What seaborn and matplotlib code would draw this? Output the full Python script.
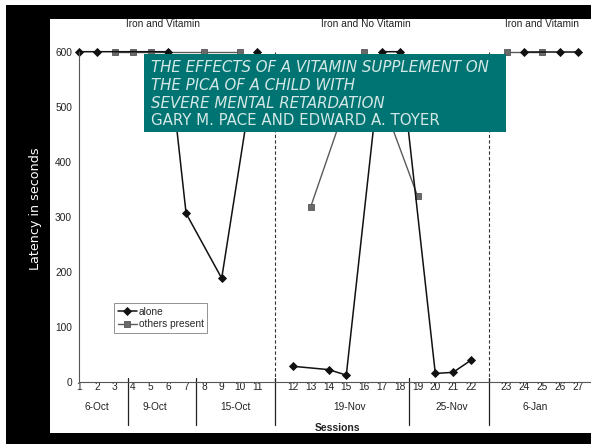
import numpy as np
import pandas as pd
import matplotlib
matplotlib.use("Agg")
import matplotlib.pyplot as plt
import matplotlib.transforms as mtransforms
from matplotlib.patches import Rectangle
import seaborn as sns

# sessions and latencies (seconds), NaN = not run in that condition
SESSIONS = list(range(1, 28))
ALONE = [600, 600, np.nan, np.nan, np.nan, 600, 306, np.nan, 188, np.nan, 600,
         28, np.nan, 22, 12, np.nan, 600, 600, np.nan, 15, 17, 39,
         np.nan, 600, np.nan, 600, 600]
OTHERS = [np.nan, np.nan, 600, 600, 600, np.nan, np.nan, 600, np.nan, 600, np.nan,
          np.nan, 318, np.nan, np.nan, 600, np.nan, np.nan, 338, np.nan, np.nan, np.nan,
          600, np.nan, 600, np.nan, np.nan]
DATES = ["6-Oct", "9-Oct", "15-Oct", "19-Nov", "25-Nov", "6-Jan"]
PHASES = ["Iron and Vitamin", "Iron and No Vitamin", "Iron and Vitamin"]
Y_TICKS = [0, 100, 200, 300, 400, 500, 600]
TITLE_LINES = ["THE EFFECTS OF A VITAMIN SUPPLEMENT ON",
               "THE PICA OF A CHILD WITH",
               "SEVERE MENTAL RETARDATION",
               "GARY M. PACE AND EDWARD A. TOYER"]

W, H = 591, 444


def slot(s):
    # one empty slot between phases
    if s <= 11:
        return s - 1
    if s <= 22:
        return s
    return s + 1


def phase(s):
    if s <= 11:
        return 0
    if s <= 22:
        return 1
    return 2


def fx(px):
    return px / W


def fy(py):
    return 1 - py / H


sns.set_theme(style="white")
plt.rcParams["font.family"] = ["Liberation Sans", "DejaVu Sans"]

df = pd.DataFrame({"session": SESSIONS, "alone": ALONE, "others": OTHERS})
df["slot"] = df["session"].map(slot)
df["phase"] = df["session"].map(phase)

fig = plt.figure(figsize=(W / 100, H / 100), dpi=100)
fig.patch.set_facecolor("white")

x0, y0, ytop = 79.3, 381.7, 51.7
step = 17.8
ax = fig.add_axes([fx(x0), fy(y0), (W - x0) / W, (y0 - ytop) / H])
ax.set_facecolor("white")

alone_style = dict(color="#111111", linewidth=1.1, marker="D", markersize=3.6,
                   markeredgecolor="#111111", markeredgewidth=0.6)
others_style = dict(color="#5a5a5a", linewidth=1.0, marker="s", markersize=4.4,
                    markeredgecolor="#555555", markerfacecolor="#6a6a6a",
                    markeredgewidth=0.6)

# lines are not joined across phase changes
for p in range(3):
    part = df[df["phase"] == p]
    o = part.dropna(subset=["others"])
    a = part.dropna(subset=["alone"])
    sns.lineplot(data=o, x="slot", y="others", clip_on=False, ax=ax,
                 label="others present" if p == 0 else None, **others_style)
    sns.lineplot(data=a, x="slot", y="alone", clip_on=False, ax=ax,
                 label="alone" if p == 0 else None, **alone_style)

ax.set_xlim(0, (W - x0) / step)
ax.set_ylim(0, 600)
for s in ["top", "right"]:
    ax.spines[s].set_visible(False)
ax.spines["left"].set_bounds(0, 600)
for s in ["left", "bottom"]:
    ax.spines[s].set_color("#555555")
    ax.spines[s].set_linewidth(0.8)

ax.set_xticks([slot(s) for s in SESSIONS], labels=[str(s) for s in SESSIONS])
ax.tick_params(axis="x", direction="inout", length=3.6, width=0.6, pad=-1.3,
               labelsize=7.3, color="#555555", labelcolor="#222222")
ax.set_yticks(Y_TICKS)
ax.tick_params(axis="y", direction="out", length=3, width=0.6, pad=2.3,
               labelsize=7.3, color="#555555", labelcolor="#222222")
ax.set_xlabel("")
ax.set_ylabel("")
ax.grid(False)

trans = mtransforms.blended_transform_factory(ax.transData, ax.transAxes)

# phase change lines
for xp in [11, 23]:
    ax.plot([xp, xp], [0, 600], color="#333333", linewidth=0.8,
            linestyle=(0, (3, 2)), zorder=1)

# date group separators under the axis
below = -(425 - y0) / (y0 - ytop)
for xp in [2.75, 6.55, 11, 18.5, 23]:
    ax.plot([xp, xp], [0.012, below], color="#222222", linewidth=0.9,
            transform=trans, clip_on=False)

date_x = [1, 4.25, 8.75, 15.2, 20.9, 25.6]
date_y = -(406.7 - y0) / (y0 - ytop)
for xp, lab in zip(date_x, DATES):
    ax.text(xp, date_y, lab, transform=trans, ha="center", va="center",
            fontsize=7.3, color="#222222")

phase_x = [4.7, 16.1, 26.0]
phase_y = (y0 - 23.8) / (y0 - ytop)
for xp, lab in zip(phase_x, PHASES):
    ax.text(xp, phase_y, lab, transform=trans, ha="center", va="center",
            fontsize=7.3, color="#222222")

fig.text(fx(337), fy(428.3), "Sessions", ha="center", va="center",
         fontsize=7.5, weight="bold", color="#222222")

# alone first, like the original
handles, labels = ax.get_legend_handles_labels()
order = [labels.index("alone"), labels.index("others present")]
leg = ax.legend([handles[i] for i in order], [labels[i] for i in order],
                loc="upper left", bbox_to_anchor=(fx(114), fy(303)),
                bbox_transform=fig.transFigure, frameon=True, fancybox=False,
                edgecolor="#777777", fontsize=7.3, handlelength=1.9,
                handletextpad=0.2, borderpad=0.35, labelspacing=0.25,
                borderaxespad=0)
leg.get_frame().set_linewidth(0.7)

# black slide frame
for (l, t, r, b) in [(6, 5, 50, H), (6, 5, W, 19.5), (6, 433.3, W, H)]:
    fig.add_artist(Rectangle((fx(l), fy(b)), (r - l) / W, (b - t) / H,
                             transform=fig.transFigure, facecolor="black",
                             edgecolor="none", zorder=5))

fig.text(fx(35), fy(209), "Latency in seconds", rotation=90, color="white",
         fontsize=9.2, family="DejaVu Sans", ha="center", va="center", zorder=12)

# teal title box
fig.add_artist(Rectangle((fx(144), fy(131.7)), (506 - 144) / W, (131.7 - 54) / H,
                         transform=fig.transFigure, facecolor="#007472",
                         edgecolor="none", zorder=8))
baselines = [72.5, 90, 107.5, 125]
for i, (line, by) in enumerate(zip(TITLE_LINES, baselines)):
    fig.text(fx(150.7), fy(by), line, ha="left", va="baseline",
             fontsize=10.8, family="DejaVu Sans",
             style="italic" if i < 3 else "normal",
             color="#d3e8e6", zorder=9)

fig.savefig("out.png", dpi=100)
